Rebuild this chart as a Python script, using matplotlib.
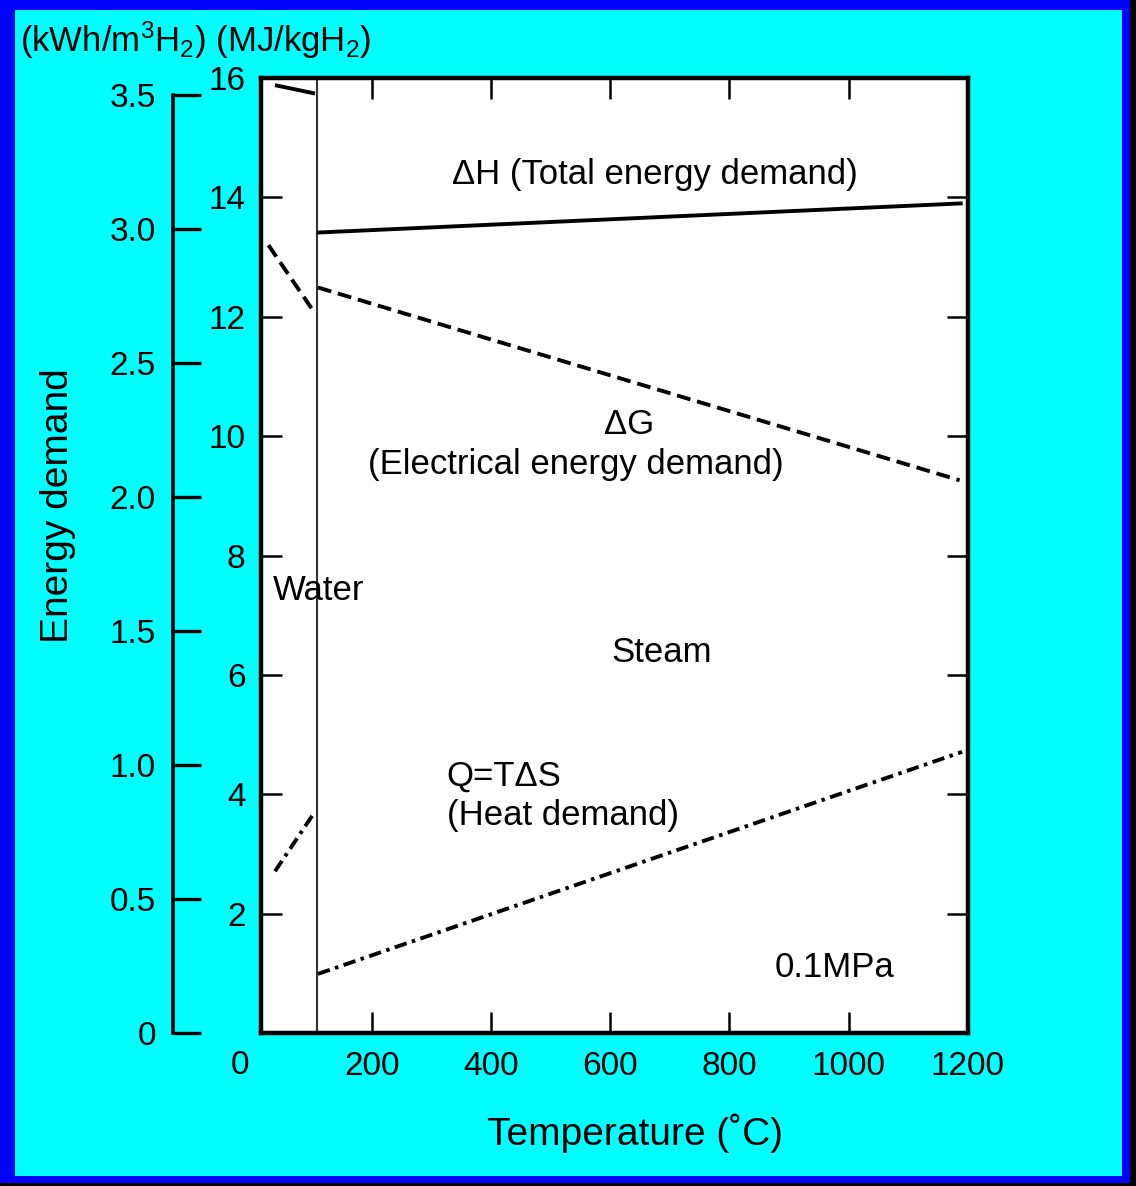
import matplotlib
matplotlib.use("Agg")
import matplotlib.pyplot as plt
from matplotlib.patches import Rectangle
from matplotlib.transforms import blended_transform_factory

plt.rcParams['font.family'] = ['Liberation Sans', 'DejaVu Sans']
plt.rcParams['mathtext.fontset'] = 'custom'
plt.rcParams['mathtext.rm'] = 'Liberation Sans'
plt.rcParams['lines.scale_dashes'] = False

# ---- data (temperature in degC, energy in MJ/kgH2) ----
boundary_T = 108
dH_water_T = [38, 105]
dH_water_E = [15.88, 15.74]
dH_steam_T = [108, 1191]
dH_steam_E = [13.41, 13.90]
dG_water_T = [27, 102]
dG_water_E = [13.20, 12.10]
dG_steam_T = [110, 1186]
dG_steam_E = [12.49, 9.26]
q_water_T = [38, 105]
q_water_E = [2.71, 3.71]
q_steam_T = [110, 1190]
q_steam_E = [0.99, 4.71]

x_ticks = [200, 400, 600, 800, 1000, 1200]
y_ticks = [2, 4, 6, 8, 10, 12, 14, 16]
kwh_ticks = [0, 0.5, 1.0, 1.5, 2.0, 2.5, 3.0, 3.5]
kwh_labels = ['0', '0.5', '1.0', '1.5', '2.0', '2.5', '3.0', '3.5']

W, H = 1136, 1186
fig = plt.figure(figsize=(W / 100, H / 100), dpi=100, facecolor='black')

# background frames
fig.patches.append(Rectangle((0, 3 / H), 1130 / W, 1 - 3 / H, transform=fig.transFigure,
                             facecolor='#0000ff', edgecolor='none', zorder=-10))
fig.patches.append(Rectangle((15 / W, 10 / H), (1122 - 15) / W, (1176 - 10) / H,
                             transform=fig.transFigure, facecolor='#00ffff',
                             edgecolor='none', zorder=-9))

tick_fs = 24
left, right = 260.7 / W, 968 / W
bottom, top = 1 - 1033 / H, 1 - 78 / H
ax = fig.add_axes([left, bottom, right - left, top - bottom])
ax.set_facecolor('white')
ax.set_xlim(14, 1200)
ax.set_ylim(0, 16)
for s in ax.spines.values():
    s.set_linewidth(3.2)
    s.set_color('black')

ax.set_xticks(x_ticks)
ax.set_xticklabels([str(v) for v in x_ticks])
ax.set_yticks(y_ticks)
ax.set_yticklabels([str(v) for v in y_ticks])
ax.tick_params(direction='in', length=15, width=1.8, top=True, right=True,
               labelsize=tick_fs)
ax.tick_params(axis='y', pad=11)
ax.tick_params(axis='x', pad=13)
# hide tick marks in the corners
for t in (ax.xaxis.get_major_ticks()[-1], ax.yaxis.get_major_ticks()[-1]):
    t.tick1line.set_visible(False)
    t.tick2line.set_visible(False)

# "0" on the x axis, left of the spine
trans = blended_transform_factory(ax.transData, ax.transAxes)
ax.text(-21, -0.0345, '0', transform=trans, ha='center', va='center',
        fontsize=tick_fs, clip_on=False)

# water/steam boundary
ax.plot([boundary_T, boundary_T], [0, 16], color='#333333', lw=1.5)

lw = 2.8
ax.plot(dH_water_T, dH_water_E, color='black', lw=lw, solid_capstyle='butt')
ax.plot(dH_steam_T, dH_steam_E, color='black', lw=lw, solid_capstyle='butt')
ax.plot(dG_water_T, dG_water_E, color='black', lw=lw, dashes=(10, 5))
ax.plot(dG_steam_T, dG_steam_E, color='black', lw=lw, dashes=(10, 5))
ax.plot(q_water_T, q_water_E, color='black', lw=lw, dashes=(9, 4, 2.5, 4))
ax.plot(q_steam_T, q_steam_E, color='black', lw=lw, dashes=(9, 4, 2.5, 4))

fs = 25
ax.text(675, 14.39, '\u0394H (Total energy demand)', ha='center', va='center', fontsize=fs)
ax.text(632, 10.19, '\u0394G', ha='center', va='center', fontsize=fs)
ax.text(543, 9.52, '(Electrical energy demand)', ha='center', va='center', fontsize=fs)
ax.text(34, 7.42, 'Water', ha='left', va='center', fontsize=fs)
ax.text(687, 6.38, 'Steam', ha='center', va='center', fontsize=fs)
ax.text(326, 4.31, 'Q=T\u0394S', ha='left', va='center', fontsize=fs)
ax.text(326, 3.64, '(Heat demand)', ha='left', va='center', fontsize=fs)
ax.text(976, 1.10, '0.1MPa', ha='center', va='center', fontsize=fs)

# secondary kWh/m3 axis
ax2 = fig.add_axes([172.5 / W, bottom, 0.05, top - bottom])
ax2.patch.set_visible(False)
for k in ['top', 'right', 'bottom']:
    ax2.spines[k].set_visible(False)
ax2.spines['left'].set_linewidth(2.6)
ax2.spines['left'].set_bounds(0, 3.5)
ax2.set_ylim(0, (1033 - 78) / ((1033 - 95) / 3.5))
ax2.set_xticks([])
ax2.set_yticks(kwh_ticks)
ax2.set_yticklabels(kwh_labels)
ax2.tick_params(axis='y', direction='in', length=20, width=2.4, labelsize=tick_fs, pad=12)

fig.text(58 / W, 1 - 506 / H, 'Energy demand', rotation=90, ha='center', va='center',
         fontsize=28)
fig.text(635 / W, 1 - 1133 / H, 'Temperature (\u02daC)', ha='center', va='center',
         fontsize=28)
fig.text(20 / W, 1 - 40 / H,
         r'(kWh/m$\mathregular{^3}$H$\mathregular{_2}$) (MJ/kgH$\mathregular{_2}$)',
         ha='left', va='center', fontsize=25)

fig.savefig('out.png', dpi=100, facecolor=fig.get_facecolor())
